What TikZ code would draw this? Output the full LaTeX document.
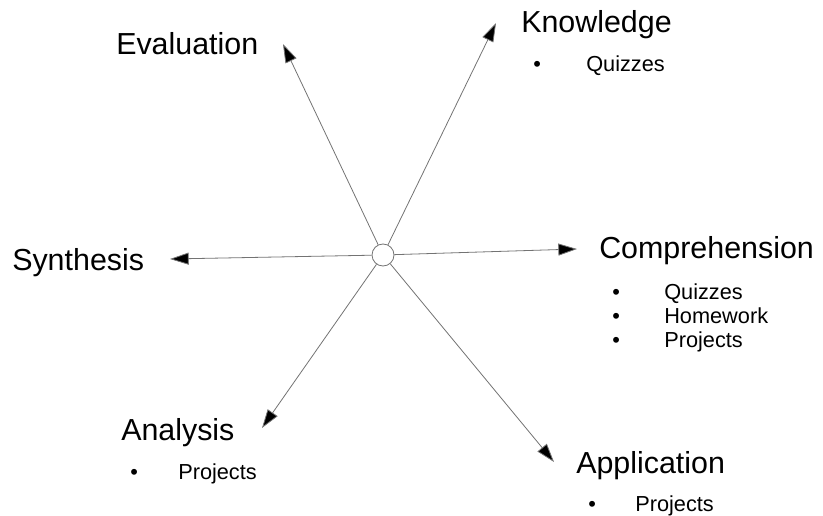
\documentclass[tikz,border=0pt]{standalone}
\usepackage{fontspec}
\setmainfont{Liberation Sans}
\usetikzlibrary{arrows.meta}
\begin{document}
\begin{tikzpicture}[x=0.75pt,y=-0.75pt,
  title/.style={anchor=base west,inner sep=0pt,font=\fontsize{22.8}{27}\selectfont},
  item/.style={anchor=base west,inner sep=0pt,font=\fontsize{16.3}{19}\selectfont},
  spoke/.style={draw=black!55,line width=0.6pt,-{Triangle[length=14pt,width=9pt,fill=black]}}]
\useasboundingbox (0,0) rectangle (823,516);
% centre
\node[circle,draw=black!55,line width=0.6pt,minimum size=16.5pt,inner sep=0pt,fill=white] (c) at (383,255) {};
% arrow tips
\coordinate (tE) at (283,44);
\coordinate (tK) at (496,23);
\coordinate (tC) at (577,249);
\coordinate (tAp) at (554,462);
\coordinate (tAn) at (262,428);
\coordinate (tS) at (170,259);
\draw[spoke] (c) -- (tE);
\draw[spoke] (c) -- (tK);
\draw[spoke] (c) -- (tC);
\draw[spoke] (c) -- (tAp);
\draw[spoke] (c) -- (tAn);
\draw[spoke] (c) -- (tS);
% titles
\node[title] (nE) at (116,55) {Evaluation};
\node[title] (nK) at (521,33) {Knowledge};
\node[title] (nC) at (599,258) {Comprehension};
\node[title] (nS) at (12,271) {Synthesis};
\node[title] (nAn) at (121,440) {Analysis};
\node[title] (nAp) at (576,473) {Application};
% bullets
\node[item] (bK1) at (533,72) {•};
\node[item] (iK1) at (586,72) {Quizzes};
\node[item] (bC1) at (612,299) {•};
\node[item] (iC1) at (664,299) {Quizzes};
\node[item] (bC2) at (612,323) {•};
\node[item] (iC2) at (664,323) {Homework};
\node[item] (bC3) at (612,347) {•};
\node[item] (iC3) at (664,347) {Projects};
\node[item] (bAn1) at (130,479) {•};
\node[item] (iAn1) at (178,479) {Projects};
\node[item] (bAp1) at (588,511) {•};
\node[item] (iAp1) at (635,511) {Projects};
\end{tikzpicture}
\end{document}
